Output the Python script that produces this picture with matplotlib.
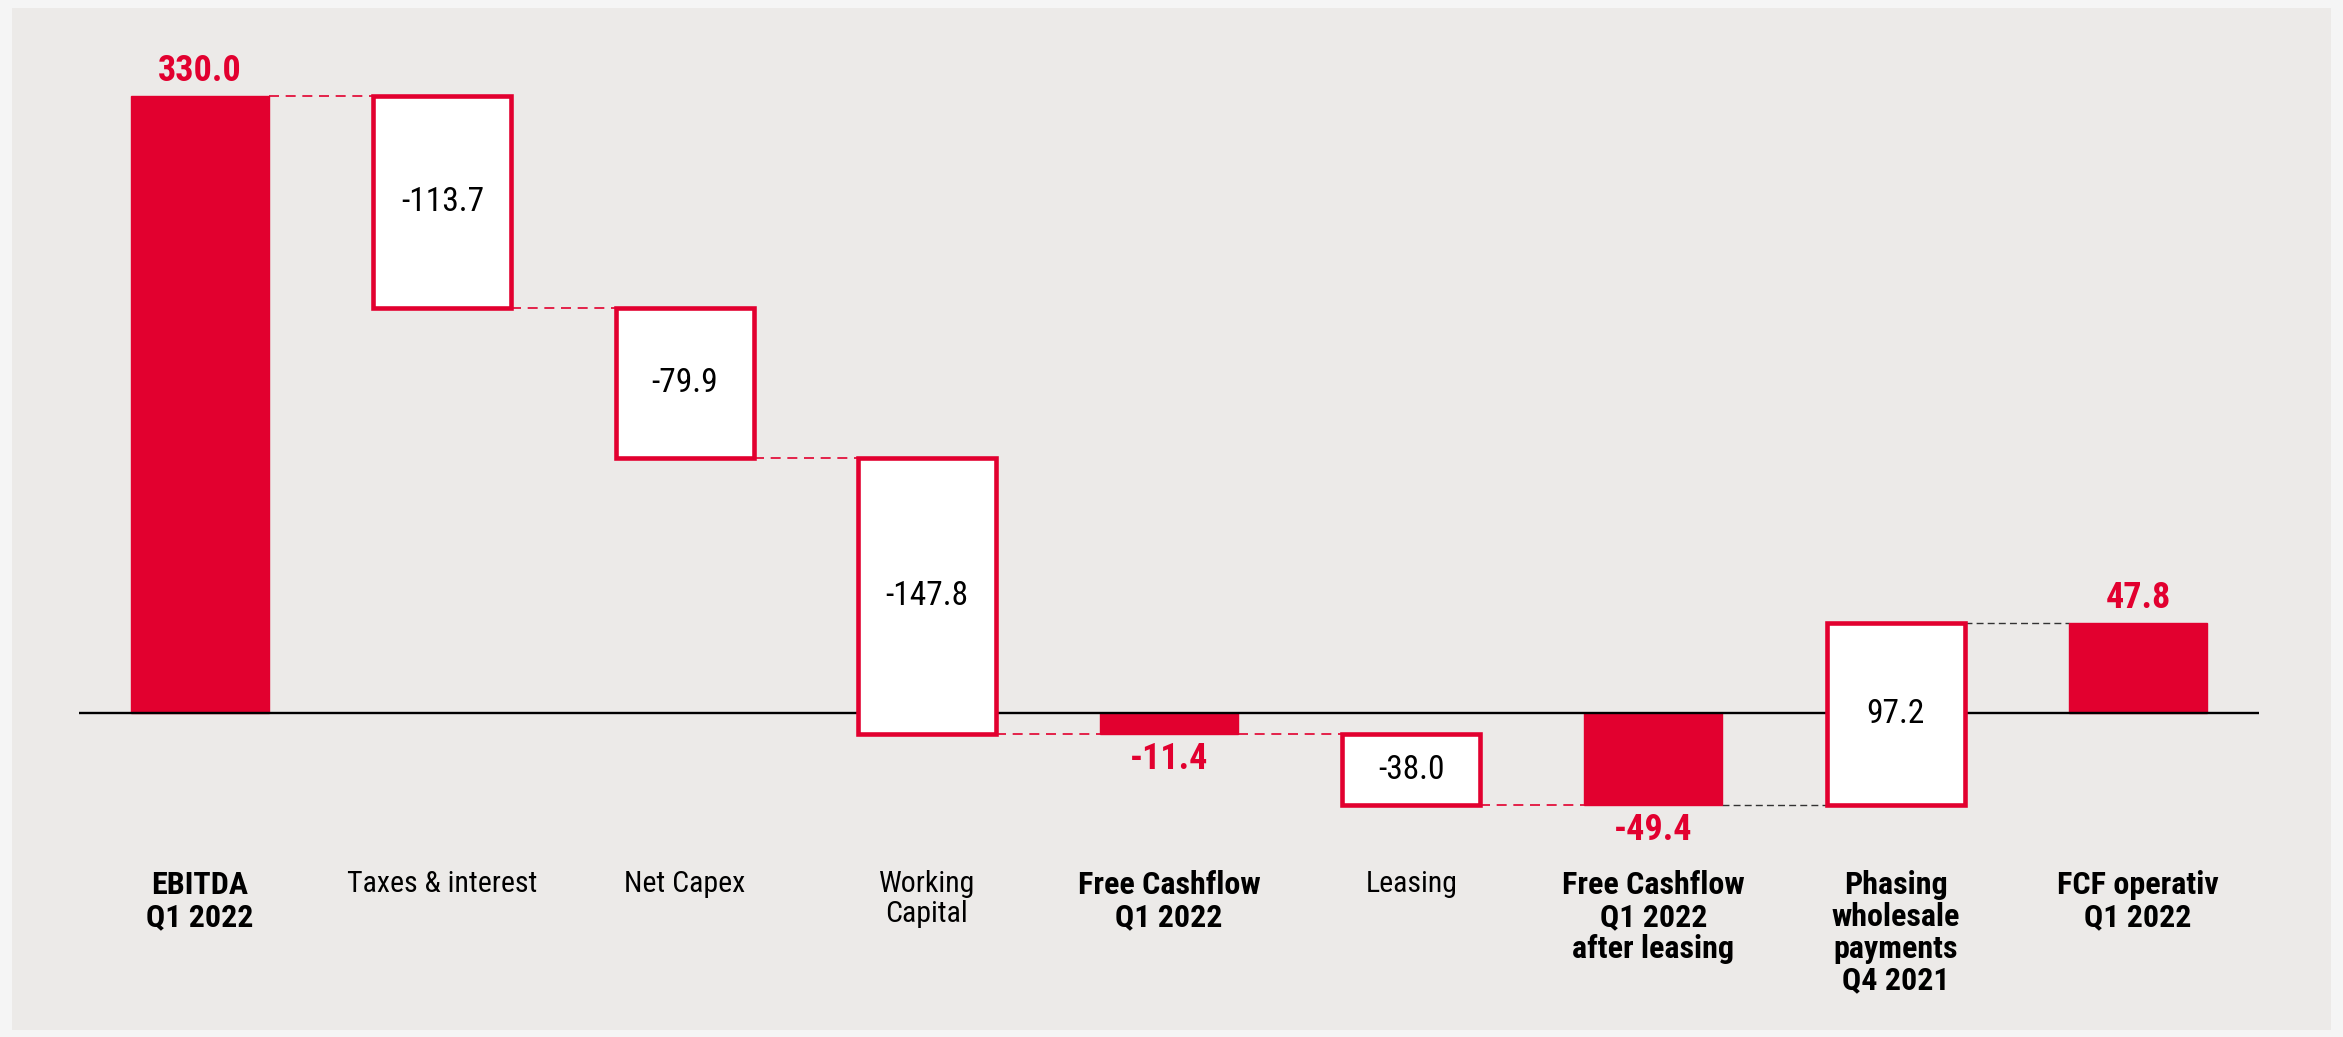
import matplotlib
matplotlib.use("Agg")
import matplotlib.pyplot as plt
from matplotlib import font_manager
from matplotlib.patches import Rectangle

# ---- data ----
categories = ["EBITDA\nQ1 2022", "Taxes & interest", "Net Capex", "Working\nCapital",
              "Free Cashflow\nQ1 2022", "Leasing", "Free Cashflow\nQ1 2022\nafter leasing",
              "Phasing\nwholesale\npayments\nQ4 2021", "FCF operativ\nQ1 2022"]
values = [330.0, -113.7, -79.9, -147.8, -11.4, -38.0, -49.4, 97.2, 47.8]
is_total = [True, False, False, False, True, False, True, False, True]
label_bold = [True, False, False, False, True, False, True, True, True]
value_labels = ["330.0", "-113.7", "-79.9", "-147.8", "-11.4", "-38.0", "-49.4", "97.2", "47.8"]

RED = "#E2002F"
PANEL = "#ECEAE8"
OUTER = "#F5F5F5"

names = {f.name for f in font_manager.fontManager.ttflist}
FONT = "Liberation Sans"
for cand in ["Liberation Sans Narrow", "Roboto Condensed", "Open Sans Condensed"]:
    if cand in names:
        FONT = cand
        break
narrow = FONT != "Liberation Sans"
plt.rcParams["font.family"] = [FONT, "DejaVu Sans"]

cat_fs_bold = 23 if narrow else 19.5
cat_fs_reg = 21.5 if narrow else 18.5
val_fs = 24 if narrow else 20.5
red_fs = 26 if narrow else 23

W, H = 2343, 1037
fig = plt.figure(figsize=(W / 100, H / 100), dpi=100, facecolor=OUTER)
fig.patches.append(Rectangle((12 / W, 1 - 1030 / H), (2331 - 12) / W, (1030 - 8) / H,
                             transform=fig.transFigure, facecolor=PANEL, edgecolor="none", zorder=-10))

ax = fig.add_axes([79 / W, 1 - 825 / H, 2180 / W, (825 - 77) / H])
ax.set_xlim(-0.5, len(values) - 0.5)
ax.set_ylim(-60, 340)
ax.axis("off")

bw = 0.57
running = 0.0
tops = []
for i, v in enumerate(values):
    if is_total[i]:
        base, end = 0.0, v
        running = v
        ax.bar(i, v, width=bw, bottom=0, color=RED, edgecolor=RED, linewidth=1, zorder=2)
    else:
        base = running
        end = running + v
        running = end
        ax.bar(i, v, width=bw, bottom=base, color="white", edgecolor=RED, linewidth=3.3, zorder=3)
    tops.append((base, end))

# zero line
ax.axhline(0, color="black", linewidth=1.7, zorder=2.5)

# connectors
levels = []
running = 0.0
for i, v in enumerate(values):
    running = v if is_total[i] else running + v
    levels.append(running)
for i in range(len(values) - 1):
    lvl = levels[i]
    x0 = i + bw / 2
    x1 = i + 1 - bw / 2
    if i >= 6:
        ax.plot([x0, x1], [lvl, lvl], color="#333333", linestyle=(0, (5, 3)), linewidth=1.0, zorder=1.5)
    else:
        ax.plot([x0, x1], [lvl, lvl], color=RED, linestyle=(0, (6, 4)), linewidth=1.2, zorder=1.5)

# value labels
for i, v in enumerate(values):
    base, end = tops[i]
    if is_total[i]:
        if v >= 0:
            ax.annotate(value_labels[i], (i, end), xytext=(0, 5), textcoords="offset points",
                        ha="center", va="bottom", color=RED, fontsize=red_fs, fontweight="bold")
        else:
            ax.annotate(value_labels[i], (i, end), xytext=(0, -5), textcoords="offset points",
                        ha="center", va="top", color=RED, fontsize=red_fs, fontweight="bold")
    else:
        ax.text(i, (base + end) / 2, value_labels[i], ha="center", va="center",
                color="black", fontsize=val_fs, zorder=4)

# category labels
for i, c in enumerate(categories):
    b = label_bold[i]
    ax.text(i, -84, c, ha="center", va="top", fontsize=cat_fs_bold if b else cat_fs_reg,
            linespacing=1.08, fontweight="bold" if b else "normal", color="black", clip_on=False)

fig.savefig("out.png", dpi=100, facecolor=OUTER)
